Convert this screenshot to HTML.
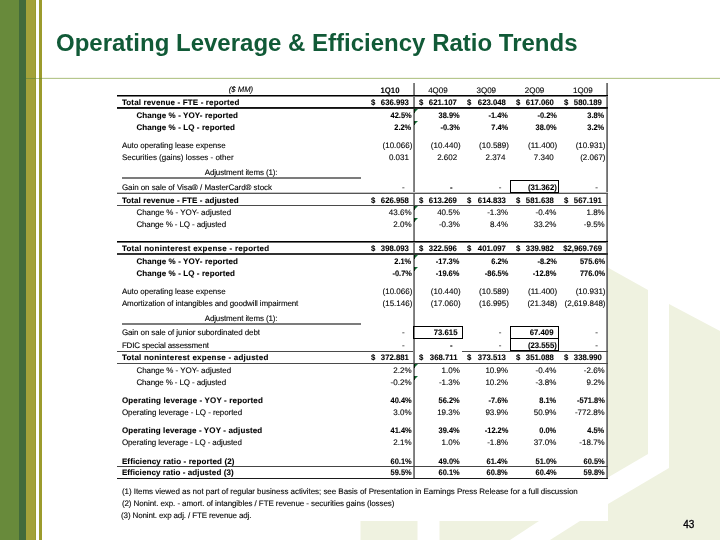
<!DOCTYPE html>
<html><head><meta charset="utf-8"><title>Operating Leverage &amp; Efficiency Ratio Trends</title>
<style>
html,body{margin:0;padding:0}
body{width:720px;height:540px;position:relative;overflow:hidden;background:#fff;font-family:"Liberation Sans",Arial,sans-serif;color:#000}
.t{position:absolute;line-height:12px;white-space:nowrap;text-rendering:geometricPrecision}
.b{font-weight:bold}
.i{font-style:italic}
.r{text-align:right}
.c{text-align:center}
.q{position:absolute}
.bx{border:1px solid #000;box-sizing:border-box}
.tri{position:absolute;width:0;height:0;border-top:3.6px solid #136b35;border-right:3.6px solid transparent}
.title{position:absolute;left:56px;top:28px;font-size:24px;font-weight:bold;color:#115a37;line-height:30px;white-space:nowrap}
.pg{position:absolute;left:683.2px;top:519.4px;font-size:10px;line-height:12px;-webkit-text-stroke:0.35px #000;text-shadow:0 0 1px #fff,0 0 2px #fff}
</style></head><body>
<svg width="720" height="540" style="position:absolute;left:0;top:0">
<g fill="#eff2e0">
<polygon points="605,266 648,290 648,454 607,478 607,266"/>
<polygon points="669,304 720,331 720,540 550,540 580,521 608,521 608,504 669,468"/>
<polygon points="360.5,521 417.5,521 417.5,540 360.5,540"/>
<polygon points="439.5,521 539,521 510,540 439.5,540"/>
</g>
<rect x="0" y="0" width="19" height="540" fill="#688a3b"/>
<rect x="19" y="0" width="7" height="540" fill="#426b3b"/>
<rect x="26" y="0" width="10" height="540" fill="#a3a23a"/>
<rect x="35" y="0" width="1" height="540" fill="#9a9a2e"/>
<rect x="39" y="0" width="3" height="540" fill="#9c9b2c"/>
<rect x="26" y="78" width="10" height="1" fill="#7a8f3a"/>
<rect x="36" y="78" width="3" height="1" fill="#b6c78d"/>
<rect x="39" y="78" width="3" height="1" fill="#7a8f3a"/>
<rect x="42" y="78" width="678" height="1" fill="#b6c78d"/>
<rect x="42" y="77" width="678" height="1" fill="#f3f5ec"/>
</svg>
<div class="title">Operating Leverage &amp; Efficiency Ratio Trends</div>
<div class="q" style="left:117px;top:83px;width:490px;height:396px;background:#fff"></div>
<div class="t i c" style="top:83.73px;font-size:8.0px;left:91.10px;width:300px;transform:scaleX(0.963);transform-origin:50% 50%;-webkit-text-stroke:0.12px #000;">($ MM)</div>
<div class="t b c" style="top:84.53px;font-size:8.0px;left:239.65px;width:300px;transform:scaleX(0.970);transform-origin:50% 50%;-webkit-text-stroke:0.1px #000;">1Q10</div>
<div class="t c" style="top:84.53px;font-size:8.0px;left:287.95px;width:300px;-webkit-text-stroke:0.1px #000;">4Q09</div>
<div class="t c" style="top:84.53px;font-size:8.0px;left:336.25px;width:300px;-webkit-text-stroke:0.1px #000;">3Q09</div>
<div class="t c" style="top:84.53px;font-size:8.0px;left:384.55px;width:300px;-webkit-text-stroke:0.1px #000;">2Q09</div>
<div class="t c" style="top:84.53px;font-size:8.0px;left:432.85px;width:300px;-webkit-text-stroke:0.1px #000;">1Q09</div>
<div class="t b" style="top:96.63px;font-size:8.0px;left:121.90px;-webkit-text-stroke:0.1px #000;letter-spacing:0.145px;">Total revenue - FTE - reported</div>
<div class="t b" style="top:96.63px;font-size:8.0px;left:370.60px;transform:scaleX(0.970);transform-origin:0 50%;-webkit-text-stroke:0.1px #000;">$</div>
<div class="t b r" style="top:96.63px;font-size:8.0px;right:311.10px;transform:scaleX(0.970);transform-origin:100% 50%;-webkit-text-stroke:0.1px #000;">636.993</div>
<div class="t b" style="top:96.63px;font-size:8.0px;left:418.90px;transform:scaleX(0.970);transform-origin:0 50%;-webkit-text-stroke:0.1px #000;">$</div>
<div class="t b r" style="top:96.63px;font-size:8.0px;right:262.80px;transform:scaleX(0.970);transform-origin:100% 50%;-webkit-text-stroke:0.1px #000;">621.107</div>
<div class="t b" style="top:96.63px;font-size:8.0px;left:467.20px;transform:scaleX(0.970);transform-origin:0 50%;-webkit-text-stroke:0.1px #000;">$</div>
<div class="t b r" style="top:96.63px;font-size:8.0px;right:214.50px;transform:scaleX(0.970);transform-origin:100% 50%;-webkit-text-stroke:0.1px #000;">623.048</div>
<div class="t b" style="top:96.63px;font-size:8.0px;left:515.50px;transform:scaleX(0.970);transform-origin:0 50%;-webkit-text-stroke:0.1px #000;">$</div>
<div class="t b r" style="top:96.63px;font-size:8.0px;right:166.20px;transform:scaleX(0.970);transform-origin:100% 50%;-webkit-text-stroke:0.1px #000;">617.060</div>
<div class="t b" style="top:96.63px;font-size:8.0px;left:563.80px;transform:scaleX(0.970);transform-origin:0 50%;-webkit-text-stroke:0.1px #000;">$</div>
<div class="t b r" style="top:96.63px;font-size:8.0px;right:117.90px;transform:scaleX(0.970);transform-origin:100% 50%;-webkit-text-stroke:0.1px #000;">580.189</div>
<div class="t b" style="top:109.53px;font-size:8.0px;left:136.40px;-webkit-text-stroke:0.1px #000;letter-spacing:0.095px;">Change % - YOY- reported</div>
<div class="t b r" style="top:109.53px;font-size:8.0px;right:308.50px;transform:scaleX(0.930);transform-origin:100% 50%;-webkit-text-stroke:0.1px #000;">42.5%</div>
<div class="t b r" style="top:109.53px;font-size:8.0px;right:260.20px;transform:scaleX(0.930);transform-origin:100% 50%;-webkit-text-stroke:0.1px #000;">38.9%</div>
<div class="t b r" style="top:109.53px;font-size:8.0px;right:211.90px;transform:scaleX(0.930);transform-origin:100% 50%;-webkit-text-stroke:0.1px #000;">-1.4%</div>
<div class="t b r" style="top:109.53px;font-size:8.0px;right:163.60px;transform:scaleX(0.930);transform-origin:100% 50%;-webkit-text-stroke:0.1px #000;">-0.2%</div>
<div class="t b r" style="top:109.53px;font-size:8.0px;right:115.30px;transform:scaleX(0.930);transform-origin:100% 50%;-webkit-text-stroke:0.1px #000;">3.8%</div>
<div class="t b" style="top:121.68px;font-size:8.0px;left:136.40px;-webkit-text-stroke:0.1px #000;letter-spacing:0.094px;">Change % - LQ - reported</div>
<div class="t b r" style="top:121.68px;font-size:8.0px;right:308.50px;transform:scaleX(0.930);transform-origin:100% 50%;-webkit-text-stroke:0.1px #000;">2.2%</div>
<div class="t b r" style="top:121.68px;font-size:8.0px;right:260.20px;transform:scaleX(0.930);transform-origin:100% 50%;-webkit-text-stroke:0.1px #000;">-0.3%</div>
<div class="t b r" style="top:121.68px;font-size:8.0px;right:211.90px;transform:scaleX(0.930);transform-origin:100% 50%;-webkit-text-stroke:0.1px #000;">7.4%</div>
<div class="t b r" style="top:121.68px;font-size:8.0px;right:163.60px;transform:scaleX(0.930);transform-origin:100% 50%;-webkit-text-stroke:0.1px #000;">38.0%</div>
<div class="t b r" style="top:121.68px;font-size:8.0px;right:115.30px;transform:scaleX(0.930);transform-origin:100% 50%;-webkit-text-stroke:0.1px #000;">3.2%</div>
<div class="t" style="top:139.73px;font-size:8.0px;left:121.90px;-webkit-text-stroke:0.1px #000;letter-spacing:-0.080px;">Auto operating lease expense</div>
<div class="t r" style="top:139.73px;font-size:8.0px;right:307.70px;-webkit-text-stroke:0.1px #000;">(10.066)</div>
<div class="t r" style="top:139.73px;font-size:8.0px;right:259.40px;-webkit-text-stroke:0.1px #000;">(10.440)</div>
<div class="t r" style="top:139.73px;font-size:8.0px;right:211.10px;-webkit-text-stroke:0.1px #000;">(10.589)</div>
<div class="t r" style="top:139.73px;font-size:8.0px;right:162.80px;-webkit-text-stroke:0.1px #000;">(11.400)</div>
<div class="t r" style="top:139.73px;font-size:8.0px;right:114.50px;-webkit-text-stroke:0.1px #000;">(10.931)</div>
<div class="t" style="top:151.73px;font-size:8.0px;left:121.90px;-webkit-text-stroke:0.1px #000;letter-spacing:-0.011px;">Securities (gains) losses - other</div>
<div class="t r" style="top:151.73px;font-size:8.0px;right:311.10px;-webkit-text-stroke:0.1px #000;">0.031</div>
<div class="t r" style="top:151.73px;font-size:8.0px;right:262.80px;-webkit-text-stroke:0.1px #000;">2.602</div>
<div class="t r" style="top:151.73px;font-size:8.0px;right:214.50px;-webkit-text-stroke:0.1px #000;">2.374</div>
<div class="t r" style="top:151.73px;font-size:8.0px;right:166.20px;-webkit-text-stroke:0.1px #000;">7.340</div>
<div class="t r" style="top:151.73px;font-size:8.0px;right:114.50px;-webkit-text-stroke:0.1px #000;">(2.067)</div>
<div class="t" style="top:181.68px;font-size:8.0px;left:121.90px;-webkit-text-stroke:0.1px #000;letter-spacing:-0.063px;">Gain on sale of Visa® / MasterCard® stock</div>
<div class="t r" style="top:181.68px;font-size:8.0px;right:315.30px;-webkit-text-stroke:0.1px #000;">-</div>
<div class="t b r" style="top:182.08px;font-size:8.0px;right:267.00px;transform:scaleX(0.970);transform-origin:100% 50%;-webkit-text-stroke:0.1px #000;">-</div>
<div class="t r" style="top:181.68px;font-size:8.0px;right:218.70px;-webkit-text-stroke:0.1px #000;">-</div>
<div class="t b r" style="top:182.08px;font-size:8.0px;right:162.80px;transform:scaleX(0.970);transform-origin:100% 50%;-webkit-text-stroke:0.1px #000;">(31.362)</div>
<div class="t r" style="top:181.68px;font-size:8.0px;right:122.10px;-webkit-text-stroke:0.1px #000;">-</div>
<div class="t b" style="top:194.68px;font-size:8.0px;left:121.90px;-webkit-text-stroke:0.1px #000;letter-spacing:0.105px;">Total revenue - FTE - adjusted</div>
<div class="t b" style="top:194.68px;font-size:8.0px;left:370.60px;transform:scaleX(0.970);transform-origin:0 50%;-webkit-text-stroke:0.1px #000;">$</div>
<div class="t b r" style="top:194.68px;font-size:8.0px;right:311.10px;transform:scaleX(0.970);transform-origin:100% 50%;-webkit-text-stroke:0.1px #000;">626.958</div>
<div class="t b" style="top:194.68px;font-size:8.0px;left:418.90px;transform:scaleX(0.970);transform-origin:0 50%;-webkit-text-stroke:0.1px #000;">$</div>
<div class="t b r" style="top:194.68px;font-size:8.0px;right:262.80px;transform:scaleX(0.970);transform-origin:100% 50%;-webkit-text-stroke:0.1px #000;">613.269</div>
<div class="t b" style="top:194.68px;font-size:8.0px;left:467.20px;transform:scaleX(0.970);transform-origin:0 50%;-webkit-text-stroke:0.1px #000;">$</div>
<div class="t b r" style="top:194.68px;font-size:8.0px;right:214.50px;transform:scaleX(0.970);transform-origin:100% 50%;-webkit-text-stroke:0.1px #000;">614.833</div>
<div class="t b" style="top:194.68px;font-size:8.0px;left:515.50px;transform:scaleX(0.970);transform-origin:0 50%;-webkit-text-stroke:0.1px #000;">$</div>
<div class="t b r" style="top:194.68px;font-size:8.0px;right:166.20px;transform:scaleX(0.970);transform-origin:100% 50%;-webkit-text-stroke:0.1px #000;">581.638</div>
<div class="t b" style="top:194.68px;font-size:8.0px;left:563.80px;transform:scaleX(0.970);transform-origin:0 50%;-webkit-text-stroke:0.1px #000;">$</div>
<div class="t b r" style="top:194.68px;font-size:8.0px;right:117.90px;transform:scaleX(0.970);transform-origin:100% 50%;-webkit-text-stroke:0.1px #000;">567.191</div>
<div class="t" style="top:206.63px;font-size:8.0px;left:136.40px;-webkit-text-stroke:0.1px #000;letter-spacing:-0.040px;">Change % - YOY- adjusted</div>
<div class="t r" style="top:206.63px;font-size:8.0px;right:308.50px;-webkit-text-stroke:0.1px #000;">43.6%</div>
<div class="t r" style="top:206.63px;font-size:8.0px;right:260.20px;-webkit-text-stroke:0.1px #000;">40.5%</div>
<div class="t r" style="top:206.63px;font-size:8.0px;right:211.90px;-webkit-text-stroke:0.1px #000;">-1.3%</div>
<div class="t r" style="top:206.63px;font-size:8.0px;right:163.60px;-webkit-text-stroke:0.1px #000;">-0.4%</div>
<div class="t r" style="top:206.63px;font-size:8.0px;right:115.30px;-webkit-text-stroke:0.1px #000;">1.8%</div>
<div class="t" style="top:218.58px;font-size:8.0px;left:136.40px;-webkit-text-stroke:0.1px #000;letter-spacing:-0.122px;">Change % - LQ - adjusted</div>
<div class="t r" style="top:218.58px;font-size:8.0px;right:308.50px;-webkit-text-stroke:0.1px #000;">2.0%</div>
<div class="t r" style="top:218.58px;font-size:8.0px;right:260.20px;-webkit-text-stroke:0.1px #000;">-0.3%</div>
<div class="t r" style="top:218.58px;font-size:8.0px;right:211.90px;-webkit-text-stroke:0.1px #000;">8.4%</div>
<div class="t r" style="top:218.58px;font-size:8.0px;right:163.60px;-webkit-text-stroke:0.1px #000;">33.2%</div>
<div class="t r" style="top:218.58px;font-size:8.0px;right:115.30px;-webkit-text-stroke:0.1px #000;">-9.5%</div>
<div class="t b" style="top:242.58px;font-size:8.0px;left:121.90px;-webkit-text-stroke:0.1px #000;letter-spacing:0.263px;">Total noninterest expense - reported</div>
<div class="t b" style="top:242.58px;font-size:8.0px;left:370.60px;transform:scaleX(0.970);transform-origin:0 50%;-webkit-text-stroke:0.1px #000;">$</div>
<div class="t b r" style="top:242.58px;font-size:8.0px;right:311.10px;transform:scaleX(0.970);transform-origin:100% 50%;-webkit-text-stroke:0.1px #000;">398.093</div>
<div class="t b" style="top:242.58px;font-size:8.0px;left:418.90px;transform:scaleX(0.970);transform-origin:0 50%;-webkit-text-stroke:0.1px #000;">$</div>
<div class="t b r" style="top:242.58px;font-size:8.0px;right:262.80px;transform:scaleX(0.970);transform-origin:100% 50%;-webkit-text-stroke:0.1px #000;">322.596</div>
<div class="t b" style="top:242.58px;font-size:8.0px;left:467.20px;transform:scaleX(0.970);transform-origin:0 50%;-webkit-text-stroke:0.1px #000;">$</div>
<div class="t b r" style="top:242.58px;font-size:8.0px;right:214.50px;transform:scaleX(0.970);transform-origin:100% 50%;-webkit-text-stroke:0.1px #000;">401.097</div>
<div class="t b" style="top:242.58px;font-size:8.0px;left:515.50px;transform:scaleX(0.970);transform-origin:0 50%;-webkit-text-stroke:0.1px #000;">$</div>
<div class="t b r" style="top:242.58px;font-size:8.0px;right:166.20px;transform:scaleX(0.970);transform-origin:100% 50%;-webkit-text-stroke:0.1px #000;">339.982</div>
<div class="t b r" style="top:242.58px;font-size:8.0px;right:117.90px;transform:scaleX(0.970);transform-origin:100% 50%;-webkit-text-stroke:0.1px #000;">$2,969.769</div>
<div class="t b" style="top:255.68px;font-size:8.0px;left:136.40px;-webkit-text-stroke:0.1px #000;letter-spacing:0.095px;">Change % - YOY- reported</div>
<div class="t b r" style="top:255.68px;font-size:8.0px;right:308.50px;transform:scaleX(0.930);transform-origin:100% 50%;-webkit-text-stroke:0.1px #000;">2.1%</div>
<div class="t b r" style="top:255.68px;font-size:8.0px;right:260.20px;transform:scaleX(0.930);transform-origin:100% 50%;-webkit-text-stroke:0.1px #000;">-17.3%</div>
<div class="t b r" style="top:255.68px;font-size:8.0px;right:211.90px;transform:scaleX(0.930);transform-origin:100% 50%;-webkit-text-stroke:0.1px #000;">6.2%</div>
<div class="t b r" style="top:255.68px;font-size:8.0px;right:163.60px;transform:scaleX(0.930);transform-origin:100% 50%;-webkit-text-stroke:0.1px #000;">-8.2%</div>
<div class="t b r" style="top:255.68px;font-size:8.0px;right:115.30px;transform:scaleX(0.930);transform-origin:100% 50%;-webkit-text-stroke:0.1px #000;">575.6%</div>
<div class="t b" style="top:267.68px;font-size:8.0px;left:136.40px;-webkit-text-stroke:0.1px #000;letter-spacing:0.094px;">Change % - LQ - reported</div>
<div class="t b r" style="top:267.68px;font-size:8.0px;right:308.50px;transform:scaleX(0.930);transform-origin:100% 50%;-webkit-text-stroke:0.1px #000;">-0.7%</div>
<div class="t b r" style="top:267.68px;font-size:8.0px;right:260.20px;transform:scaleX(0.930);transform-origin:100% 50%;-webkit-text-stroke:0.1px #000;">-19.6%</div>
<div class="t b r" style="top:267.68px;font-size:8.0px;right:211.90px;transform:scaleX(0.930);transform-origin:100% 50%;-webkit-text-stroke:0.1px #000;">-86.5%</div>
<div class="t b r" style="top:267.68px;font-size:8.0px;right:163.60px;transform:scaleX(0.930);transform-origin:100% 50%;-webkit-text-stroke:0.1px #000;">-12.8%</div>
<div class="t b r" style="top:267.68px;font-size:8.0px;right:115.30px;transform:scaleX(0.930);transform-origin:100% 50%;-webkit-text-stroke:0.1px #000;">776.0%</div>
<div class="t" style="top:285.53px;font-size:8.0px;left:121.90px;-webkit-text-stroke:0.1px #000;letter-spacing:-0.080px;">Auto operating lease expense</div>
<div class="t r" style="top:285.53px;font-size:8.0px;right:307.70px;-webkit-text-stroke:0.1px #000;">(10.066)</div>
<div class="t r" style="top:285.53px;font-size:8.0px;right:259.40px;-webkit-text-stroke:0.1px #000;">(10.440)</div>
<div class="t r" style="top:285.53px;font-size:8.0px;right:211.10px;-webkit-text-stroke:0.1px #000;">(10.589)</div>
<div class="t r" style="top:285.53px;font-size:8.0px;right:162.80px;-webkit-text-stroke:0.1px #000;">(11.400)</div>
<div class="t r" style="top:285.53px;font-size:8.0px;right:114.50px;-webkit-text-stroke:0.1px #000;">(10.931)</div>
<div class="t" style="top:297.58px;font-size:8.0px;left:121.90px;-webkit-text-stroke:0.1px #000;letter-spacing:-0.118px;">Amortization of intangibles and goodwill impairment</div>
<div class="t r" style="top:297.58px;font-size:8.0px;right:307.70px;-webkit-text-stroke:0.1px #000;">(15.146)</div>
<div class="t r" style="top:297.58px;font-size:8.0px;right:259.40px;-webkit-text-stroke:0.1px #000;">(17.060)</div>
<div class="t r" style="top:297.58px;font-size:8.0px;right:211.10px;-webkit-text-stroke:0.1px #000;">(16.995)</div>
<div class="t r" style="top:297.58px;font-size:8.0px;right:162.80px;-webkit-text-stroke:0.1px #000;">(21.348)</div>
<div class="t r" style="top:297.58px;font-size:8.0px;right:114.50px;-webkit-text-stroke:0.1px #000;">(2,619.848)</div>
<div class="t" style="top:326.58px;font-size:8.0px;left:121.90px;-webkit-text-stroke:0.1px #000;letter-spacing:-0.097px;">Gain on sale of junior subordinated debt</div>
<div class="t r" style="top:326.58px;font-size:8.0px;right:315.30px;-webkit-text-stroke:0.1px #000;">-</div>
<div class="t b r" style="top:326.98px;font-size:8.0px;right:262.80px;transform:scaleX(0.970);transform-origin:100% 50%;-webkit-text-stroke:0.1px #000;">73.615</div>
<div class="t r" style="top:326.58px;font-size:8.0px;right:218.70px;-webkit-text-stroke:0.1px #000;">-</div>
<div class="t b r" style="top:326.98px;font-size:8.0px;right:166.20px;transform:scaleX(0.970);transform-origin:100% 50%;-webkit-text-stroke:0.1px #000;">67.409</div>
<div class="t r" style="top:326.58px;font-size:8.0px;right:122.10px;-webkit-text-stroke:0.1px #000;">-</div>
<div class="t" style="top:339.68px;font-size:8.0px;left:121.90px;-webkit-text-stroke:0.1px #000;letter-spacing:-0.168px;">FDIC special assessment</div>
<div class="t r" style="top:339.68px;font-size:8.0px;right:315.30px;-webkit-text-stroke:0.1px #000;">-</div>
<div class="t b r" style="top:340.08px;font-size:8.0px;right:267.00px;transform:scaleX(0.970);transform-origin:100% 50%;-webkit-text-stroke:0.1px #000;">-</div>
<div class="t r" style="top:339.68px;font-size:8.0px;right:218.70px;-webkit-text-stroke:0.1px #000;">-</div>
<div class="t b r" style="top:340.08px;font-size:8.0px;right:162.80px;transform:scaleX(0.970);transform-origin:100% 50%;-webkit-text-stroke:0.1px #000;">(23.555)</div>
<div class="t r" style="top:339.68px;font-size:8.0px;right:122.10px;-webkit-text-stroke:0.1px #000;">-</div>
<div class="t b" style="top:351.68px;font-size:8.0px;left:121.90px;-webkit-text-stroke:0.1px #000;letter-spacing:0.224px;">Total noninterest expense - adjusted</div>
<div class="t b" style="top:351.68px;font-size:8.0px;left:370.60px;transform:scaleX(0.970);transform-origin:0 50%;-webkit-text-stroke:0.1px #000;">$</div>
<div class="t b r" style="top:351.68px;font-size:8.0px;right:311.10px;transform:scaleX(0.970);transform-origin:100% 50%;-webkit-text-stroke:0.1px #000;">372.881</div>
<div class="t b" style="top:351.68px;font-size:8.0px;left:418.90px;transform:scaleX(0.970);transform-origin:0 50%;-webkit-text-stroke:0.1px #000;">$</div>
<div class="t b r" style="top:351.68px;font-size:8.0px;right:262.80px;transform:scaleX(0.970);transform-origin:100% 50%;-webkit-text-stroke:0.1px #000;">368.711</div>
<div class="t b" style="top:351.68px;font-size:8.0px;left:467.20px;transform:scaleX(0.970);transform-origin:0 50%;-webkit-text-stroke:0.1px #000;">$</div>
<div class="t b r" style="top:351.68px;font-size:8.0px;right:214.50px;transform:scaleX(0.970);transform-origin:100% 50%;-webkit-text-stroke:0.1px #000;">373.513</div>
<div class="t b" style="top:351.68px;font-size:8.0px;left:515.50px;transform:scaleX(0.970);transform-origin:0 50%;-webkit-text-stroke:0.1px #000;">$</div>
<div class="t b r" style="top:351.68px;font-size:8.0px;right:166.20px;transform:scaleX(0.970);transform-origin:100% 50%;-webkit-text-stroke:0.1px #000;">351.088</div>
<div class="t b" style="top:351.68px;font-size:8.0px;left:563.80px;transform:scaleX(0.970);transform-origin:0 50%;-webkit-text-stroke:0.1px #000;">$</div>
<div class="t b r" style="top:351.68px;font-size:8.0px;right:117.90px;transform:scaleX(0.970);transform-origin:100% 50%;-webkit-text-stroke:0.1px #000;">338.990</div>
<div class="t" style="top:364.53px;font-size:8.0px;left:136.40px;-webkit-text-stroke:0.1px #000;letter-spacing:-0.040px;">Change % - YOY- adjusted</div>
<div class="t r" style="top:364.53px;font-size:8.0px;right:308.50px;-webkit-text-stroke:0.1px #000;">2.2%</div>
<div class="t r" style="top:364.53px;font-size:8.0px;right:260.20px;-webkit-text-stroke:0.1px #000;">1.0%</div>
<div class="t r" style="top:364.53px;font-size:8.0px;right:211.90px;-webkit-text-stroke:0.1px #000;">10.9%</div>
<div class="t r" style="top:364.53px;font-size:8.0px;right:163.60px;-webkit-text-stroke:0.1px #000;">-0.4%</div>
<div class="t r" style="top:364.53px;font-size:8.0px;right:115.30px;-webkit-text-stroke:0.1px #000;">-2.6%</div>
<div class="t" style="top:376.68px;font-size:8.0px;left:136.40px;-webkit-text-stroke:0.1px #000;letter-spacing:-0.122px;">Change % - LQ - adjusted</div>
<div class="t r" style="top:376.68px;font-size:8.0px;right:308.50px;-webkit-text-stroke:0.1px #000;">-0.2%</div>
<div class="t r" style="top:376.68px;font-size:8.0px;right:260.20px;-webkit-text-stroke:0.1px #000;">-1.3%</div>
<div class="t r" style="top:376.68px;font-size:8.0px;right:211.90px;-webkit-text-stroke:0.1px #000;">10.2%</div>
<div class="t r" style="top:376.68px;font-size:8.0px;right:163.60px;-webkit-text-stroke:0.1px #000;">-3.8%</div>
<div class="t r" style="top:376.68px;font-size:8.0px;right:115.30px;-webkit-text-stroke:0.1px #000;">9.2%</div>
<div class="t b" style="top:394.73px;font-size:8.0px;left:121.90px;-webkit-text-stroke:0.1px #000;letter-spacing:0.152px;">Operating leverage - YOY - reported</div>
<div class="t b r" style="top:394.73px;font-size:8.0px;right:308.50px;transform:scaleX(0.930);transform-origin:100% 50%;-webkit-text-stroke:0.1px #000;">40.4%</div>
<div class="t b r" style="top:394.73px;font-size:8.0px;right:260.20px;transform:scaleX(0.930);transform-origin:100% 50%;-webkit-text-stroke:0.1px #000;">56.2%</div>
<div class="t b r" style="top:394.73px;font-size:8.0px;right:211.90px;transform:scaleX(0.930);transform-origin:100% 50%;-webkit-text-stroke:0.1px #000;">-7.6%</div>
<div class="t b r" style="top:394.73px;font-size:8.0px;right:163.60px;transform:scaleX(0.930);transform-origin:100% 50%;-webkit-text-stroke:0.1px #000;">8.1%</div>
<div class="t b r" style="top:394.73px;font-size:8.0px;right:115.30px;transform:scaleX(0.930);transform-origin:100% 50%;-webkit-text-stroke:0.1px #000;">-571.8%</div>
<div class="t" style="top:406.58px;font-size:8.0px;left:121.90px;-webkit-text-stroke:0.1px #000;letter-spacing:-0.074px;">Operating leverage - LQ - reported</div>
<div class="t r" style="top:406.58px;font-size:8.0px;right:308.50px;-webkit-text-stroke:0.1px #000;">3.0%</div>
<div class="t r" style="top:406.58px;font-size:8.0px;right:260.20px;-webkit-text-stroke:0.1px #000;">19.3%</div>
<div class="t r" style="top:406.58px;font-size:8.0px;right:211.90px;-webkit-text-stroke:0.1px #000;">93.9%</div>
<div class="t r" style="top:406.58px;font-size:8.0px;right:163.60px;-webkit-text-stroke:0.1px #000;">50.9%</div>
<div class="t r" style="top:406.58px;font-size:8.0px;right:115.30px;-webkit-text-stroke:0.1px #000;">-772.8%</div>
<div class="t b" style="top:424.53px;font-size:8.0px;left:121.90px;-webkit-text-stroke:0.1px #000;letter-spacing:0.121px;">Operating leverage - YOY - adjusted</div>
<div class="t b r" style="top:424.53px;font-size:8.0px;right:308.50px;transform:scaleX(0.930);transform-origin:100% 50%;-webkit-text-stroke:0.1px #000;">41.4%</div>
<div class="t b r" style="top:424.53px;font-size:8.0px;right:260.20px;transform:scaleX(0.930);transform-origin:100% 50%;-webkit-text-stroke:0.1px #000;">39.4%</div>
<div class="t b r" style="top:424.53px;font-size:8.0px;right:211.90px;transform:scaleX(0.930);transform-origin:100% 50%;-webkit-text-stroke:0.1px #000;">-12.2%</div>
<div class="t b r" style="top:424.53px;font-size:8.0px;right:163.60px;transform:scaleX(0.930);transform-origin:100% 50%;-webkit-text-stroke:0.1px #000;">0.0%</div>
<div class="t b r" style="top:424.53px;font-size:8.0px;right:115.30px;transform:scaleX(0.930);transform-origin:100% 50%;-webkit-text-stroke:0.1px #000;">4.5%</div>
<div class="t" style="top:436.58px;font-size:8.0px;left:121.90px;-webkit-text-stroke:0.1px #000;letter-spacing:-0.096px;">Operating leverage - LQ - adjusted</div>
<div class="t r" style="top:436.58px;font-size:8.0px;right:308.50px;-webkit-text-stroke:0.1px #000;">2.1%</div>
<div class="t r" style="top:436.58px;font-size:8.0px;right:260.20px;-webkit-text-stroke:0.1px #000;">1.0%</div>
<div class="t r" style="top:436.58px;font-size:8.0px;right:211.90px;-webkit-text-stroke:0.1px #000;">-1.8%</div>
<div class="t r" style="top:436.58px;font-size:8.0px;right:163.60px;-webkit-text-stroke:0.1px #000;">37.0%</div>
<div class="t r" style="top:436.58px;font-size:8.0px;right:115.30px;-webkit-text-stroke:0.1px #000;">-18.7%</div>
<div class="t b" style="top:455.53px;font-size:8.0px;left:121.90px;-webkit-text-stroke:0.1px #000;letter-spacing:0.120px;">Efficiency ratio - reported (2)</div>
<div class="t b r" style="top:455.53px;font-size:8.0px;right:308.50px;transform:scaleX(0.930);transform-origin:100% 50%;-webkit-text-stroke:0.1px #000;">60.1%</div>
<div class="t b r" style="top:455.53px;font-size:8.0px;right:260.20px;transform:scaleX(0.930);transform-origin:100% 50%;-webkit-text-stroke:0.1px #000;">49.0%</div>
<div class="t b r" style="top:455.53px;font-size:8.0px;right:211.90px;transform:scaleX(0.930);transform-origin:100% 50%;-webkit-text-stroke:0.1px #000;">61.4%</div>
<div class="t b r" style="top:455.53px;font-size:8.0px;right:163.60px;transform:scaleX(0.930);transform-origin:100% 50%;-webkit-text-stroke:0.1px #000;">51.0%</div>
<div class="t b r" style="top:455.53px;font-size:8.0px;right:115.30px;transform:scaleX(0.930);transform-origin:100% 50%;-webkit-text-stroke:0.1px #000;">60.5%</div>
<div class="t b" style="top:466.68px;font-size:8.0px;left:121.90px;-webkit-text-stroke:0.1px #000;letter-spacing:0.078px;">Efficiency ratio - adjusted (3)</div>
<div class="t b r" style="top:466.68px;font-size:8.0px;right:308.50px;transform:scaleX(0.930);transform-origin:100% 50%;-webkit-text-stroke:0.1px #000;">59.5%</div>
<div class="t b r" style="top:466.68px;font-size:8.0px;right:260.20px;transform:scaleX(0.930);transform-origin:100% 50%;-webkit-text-stroke:0.1px #000;">60.1%</div>
<div class="t b r" style="top:466.68px;font-size:8.0px;right:211.90px;transform:scaleX(0.930);transform-origin:100% 50%;-webkit-text-stroke:0.1px #000;">60.8%</div>
<div class="t b r" style="top:466.68px;font-size:8.0px;right:163.60px;transform:scaleX(0.930);transform-origin:100% 50%;-webkit-text-stroke:0.1px #000;">60.4%</div>
<div class="t b r" style="top:466.68px;font-size:8.0px;right:115.30px;transform:scaleX(0.930);transform-origin:100% 50%;-webkit-text-stroke:0.1px #000;">59.8%</div>
<div class="t" style="top:167.23px;font-size:8.0px;left:204.70px;-webkit-text-stroke:0.1px #000;letter-spacing:-0.139px;">Adjustment items (1):</div>
<div class="q" style="left:122px;top:177px;width:239px;height:2px;background:#7c7c7c"></div>
<div class="t" style="top:313.33px;font-size:8.0px;left:204.70px;-webkit-text-stroke:0.1px #000;letter-spacing:-0.139px;">Adjustment items (1):</div>
<div class="q" style="left:122px;top:323px;width:239px;height:2px;background:#7c7c7c"></div>
<div class="q" style="left:413px;top:83px;width:1px;height:396px;background:#888"></div>
<div class="q" style="left:414px;top:83px;width:1px;height:396px;background:#7a7a7a"></div>
<div class="q" style="left:606px;top:83px;width:1px;height:396px;background:#8a8a8a"></div>
<div class="q" style="left:607px;top:83px;width:1px;height:396px;background:#6e6e6e"></div>
<div class="q" style="left:117px;top:95px;width:491px;height:1px;background:#000"></div>
<div class="q" style="left:117px;top:96px;width:491px;height:1px;background:#7a7a7a"></div>
<div class="q" style="left:117px;top:107px;width:491px;height:1px;background:#111"></div>
<div class="q" style="left:117px;top:108px;width:491px;height:1px;background:#2a2a2a"></div>
<div class="q" style="left:117px;top:192px;width:491px;height:1px;background:#c4c4c4"></div>
<div class="q" style="left:117px;top:193px;width:491px;height:1px;background:#555"></div>
<div class="q" style="left:117px;top:205px;width:491px;height:1px;background:#4a4a4a"></div>
<div class="q" style="left:117px;top:241px;width:491px;height:1px;background:#000"></div>
<div class="q" style="left:117px;top:242px;width:491px;height:1px;background:#6a6a6a"></div>
<div class="q" style="left:117px;top:253px;width:491px;height:1px;background:#333"></div>
<div class="q" style="left:117px;top:254px;width:491px;height:1px;background:#333"></div>
<div class="q" style="left:117px;top:363px;width:491px;height:1px;background:#4a4a4a"></div>
<div class="q" style="left:117px;top:466px;width:491px;height:1px;background:#444"></div>
<div class="q" style="left:117px;top:478px;width:491px;height:1px;background:#1a1a1a"></div>
<div class="q" style="left:117px;top:351px;width:296px;height:1px;background:#4a4a4a"></div>
<div class="q" style="left:462px;top:351px;width:146px;height:1px;background:#4a4a4a"></div>
<div class="q bx" style="left:510px;top:180px;width:49px;height:13px"></div>
<div class="q bx" style="left:413px;top:326px;width:50px;height:13px"></div>
<div class="q bx" style="left:510px;top:326px;width:49px;height:13px"></div>
<div class="q bx" style="left:510px;top:338px;width:49px;height:13px"></div>
<div class="q" style="left:414px;top:109px;width:1px;height:4px;background:#0a1a0a"></div>
<div class="tri" style="left:415px;top:109px"></div>
<div class="q" style="left:414px;top:121px;width:1px;height:4px;background:#0a1a0a"></div>
<div class="tri" style="left:415px;top:121px"></div>
<div class="q" style="left:414px;top:206px;width:1px;height:4px;background:#0a1a0a"></div>
<div class="tri" style="left:415px;top:206px"></div>
<div class="q" style="left:414px;top:218px;width:1px;height:4px;background:#0a1a0a"></div>
<div class="tri" style="left:415px;top:218px"></div>
<div class="q" style="left:414px;top:255px;width:1px;height:4px;background:#0a1a0a"></div>
<div class="tri" style="left:415px;top:255px"></div>
<div class="q" style="left:414px;top:267px;width:1px;height:4px;background:#0a1a0a"></div>
<div class="tri" style="left:415px;top:267px"></div>
<div class="q" style="left:414px;top:364px;width:1px;height:4px;background:#0a1a0a"></div>
<div class="tri" style="left:415px;top:364px"></div>
<div class="q" style="left:414px;top:376px;width:1px;height:4px;background:#0a1a0a"></div>
<div class="tri" style="left:415px;top:376px"></div>
<div class="t" style="top:485.63px;font-size:8.0px;left:121.90px;-webkit-text-stroke:0.1px #000;letter-spacing:-0.043px;">(1) Items viewed as not part of regular business activites; see Basis of Presentation in Earnings Press Release for a full discussion</div>
<div class="t" style="top:497.73px;font-size:8.0px;left:121.90px;-webkit-text-stroke:0.1px #000;letter-spacing:-0.083px;">(2) Nonint. exp. - amort. of intangibles / FTE revenue - securities gains (losses)</div>
<div class="t" style="top:509.73px;font-size:8.0px;left:121.10px;-webkit-text-stroke:0.1px #000;letter-spacing:-0.140px;">(3) Nonint. exp adj. / FTE revenue adj.</div>
<div class="pg">43</div>
</body></html>
